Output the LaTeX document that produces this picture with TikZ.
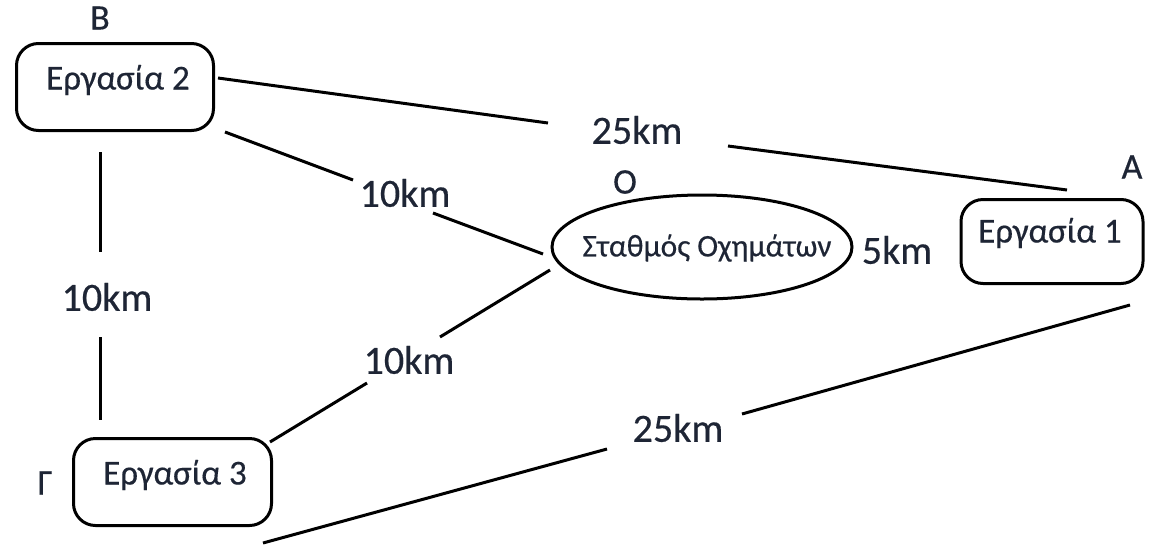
\documentclass[tikz,border=0pt]{standalone}
\usepackage{fontspec}
\setmainfont{Carlito}
\newfontfamily\lbl{Carlito}[UprightFeatures={FakeBold=0.4}]
\usetikzlibrary{shapes.geometric}
\definecolor{txt}{HTML}{1E2535}
\begin{document}
\begin{tikzpicture}[x=1pt,y=-1pt,
  box/.style={draw=black, line width=3pt, rounded corners=22pt},
  boxtext/.style={text=txt, font=\lbl\fontsize{35}{38}\selectfont, inner sep=0pt},
  dist/.style={text=txt, font=\lbl\fontsize{40}{44}\selectfont, inner sep=0pt},
  letter/.style={text=txt, font=\lbl\fontsize{36}{40}\selectfont, inner sep=0pt},
  link/.style={draw=black, line width=3pt}]
\useasboundingbox (0,0) rectangle (1151,547);
\fill[white] (0,0) rectangle (1151,547);

% boxes
\node[box, minimum width=197pt, minimum height=87pt] (e2) at (115,87) {};
\node[box, minimum width=182pt, minimum height=84pt] (e1) at (1052,241.5) {};
\node[box, minimum width=198pt, minimum height=87pt] (e3) at (172.5,482) {};
\node[draw=black, line width=3pt, ellipse, minimum width=300pt, minimum height=104pt, inner sep=0pt] (st) at (702,247) {};

\node[boxtext] (t2) at (118,80) {Εργασία 2};
\node[boxtext] (t1) at (1050,233) {Εργασία 1};
\node[boxtext] (t3) at (175,475) {Εργασία 3};
\node[text=txt, font=\lbl\fontsize{31.5}{34}\selectfont, inner sep=0pt] (ts) at (707,248) {Σταθμός Οχημάτων};

% point letters
\node[letter] (lB) at (100,18) {B};
\node[letter] (lA) at (1132,167) {A};
\node[letter] (lO) at (625,182) {O};
\node[letter] (lG) at (45,483) {Γ};

% distance labels
\node[dist] (d25a) at (637,130) {25km};
\node[dist] (d10a) at (405,193) {10km};
\node[dist] (d10b) at (107,297) {10km};
\node[dist] (d10c) at (409,360) {10km};
\node[dist] (d5) at (897,250) {5km};
\node[dist] (d25b) at (678,428) {25km};

% connector ends
\coordinate (a1) at (218,78);
\coordinate (a2) at (548,123);
\coordinate (a3) at (728,146);
\coordinate (a4) at (1067,190);

\coordinate (b1) at (225,132);
\coordinate (b2) at (353,180);
\coordinate (b3) at (433,213);
\coordinate (b4) at (543,254);

\coordinate (c1) at (100,152);
\coordinate (c2) at (100,252);
\coordinate (c3) at (100,337);
\coordinate (c4) at (100,420);

\coordinate (f1) at (550,270);
\coordinate (f2) at (440,337);
\coordinate (f3) at (367,383);
\coordinate (f4) at (270,442);

\coordinate (g1) at (1130,305);
\coordinate (g2) at (742,414);
\coordinate (g3) at (607,449);
\coordinate (g4) at (263,543);

\draw[link] (a1) -- (a2) (a3) -- (a4);
\draw[link] (b1) -- (b2) (b3) -- (b4);
\draw[link] (c1) -- (c2) (c3) -- (c4);
\draw[link] (f1) -- (f2) (f3) -- (f4);
\draw[link] (g1) -- (g2) (g3) -- (g4);
\end{tikzpicture}
\end{document}
